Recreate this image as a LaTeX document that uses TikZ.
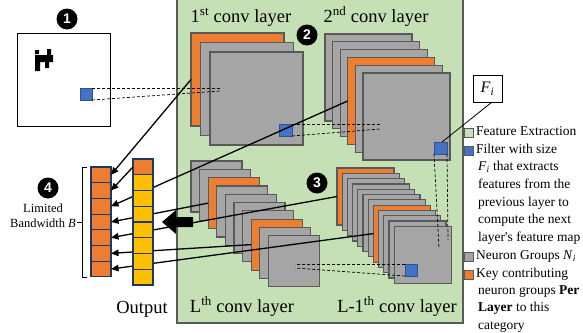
\documentclass[tikz,border=0pt]{standalone}
\usepackage{fontspec}
\setmainfont{Liberation Serif}
\newfontfamily\numfont{Liberation Sans}
\usetikzlibrary{arrows.meta}
\definecolor{panelgreen}{HTML}{C5E0B4}
\definecolor{keyorange}{HTML}{ED7D31}
\definecolor{groupgray}{HTML}{A5A5A5}
\definecolor{edgegray}{HTML}{595959}
\definecolor{filterblue}{HTML}{4472C4}
\definecolor{filteredge}{HTML}{2F528F}
\definecolor{outyellow}{HTML}{FFC000}
\definecolor{cellnavy}{HTML}{203864}
\newcommand{\biglabel}{\fontsize{18.5}{22}\selectfont}
\newcommand{\legendfont}{\fontsize{13.5}{16}\selectfont}
\begin{document}
\begin{tikzpicture}[x=1pt,y=-1pt,
  fmap/.style={draw=edgegray, line width=1.2pt, fill=#1, inner sep=0pt, outer sep=0pt, anchor=north west},
  filt/.style={draw=filteredge, line width=0.8pt, fill=filterblue, inner sep=0pt, outer sep=0pt,
    minimum width=12pt, minimum height=12pt, anchor=north west},
  cell/.style={draw=cellnavy, line width=1.1pt, fill=#1, inner sep=0pt, outer sep=0pt,
    minimum width=20pt, minimum height=15.7pt},
  feed/.style={line width=1.3pt, -{Triangle[length=7.5pt,width=6.5pt]}},
  hint/.style={dashed, line width=0.7pt, dash pattern=on 3pt off 2pt},
  badge/.style={circle, fill=black, text=white, inner sep=0pt, minimum size=21pt,
    font=\numfont\bfseries\fontsize{14}{14}\selectfont},
  layername/.style={anchor=base, font=\biglabel, inner sep=0pt},
  legtext/.style={anchor=mid west, font=\legendfont, inner sep=0pt},
  legbox/.style={draw=edgegray, line width=0.8pt, fill=#1, inner sep=0pt,
    minimum width=9pt, minimum height=9pt},
]
\useasboundingbox (0,0) rectangle (583,332);

% feature extraction panel
\fill[panelgreen] (177,-3) rectangle (463,323);
\draw[edgegray, line width=1.2pt] (177,-3) -- (177,323) -- (463,323) -- (463,-3);

% input image with its pixel glyph
\node[draw=black, line width=1.2pt, fill=white, minimum size=93pt, inner sep=0pt, anchor=north west] (img) at (17,33) {};
\fill[black] (35,50) rectangle (39,54)
             (47,49) rectangle (51,56)
             (35,55) rectangle (53,62)
             (35,62) rectangle (40,71)
             (45,62) rectangle (49,68);
\node[filt] (f0) at (80,88) {};

% 1st conv layer
\foreach \i/\c in {0/keyorange,1/groupgray,2/groupgray}
  \node[fmap=\c, minimum size=93pt] (la\i) at ({191+9.5*\i},{33+9.5*\i}) {};
\node[filt, minimum width=13pt] (f1) at (279,124) {};

% 2nd conv layer
\foreach \i/\c in {0/groupgray,1/groupgray,2/groupgray,3/keyorange,4/groupgray,5/groupgray}
  \node[fmap=\c, minimum size=87pt] (lb\i) at ({325+7.6*\i},{34+7.8*\i}) {};
\node[filt, minimum width=13pt] (f2) at (434,142) {};

% L-th conv layer
\foreach \i/\c in {0/groupgray,1/groupgray,2/keyorange,3/groupgray,4/groupgray,5/groupgray,6/groupgray,7/keyorange,8/groupgray,9/groupgray}
  \node[fmap=\c, minimum size=51pt] (ld\i) at ({191+8.6*\i},{161+8.3*\i}) {};

% (L-1)-th conv layer
\foreach \i/\c in {0/keyorange,1/groupgray,2/groupgray,3/groupgray,4/groupgray,5/groupgray,6/groupgray,7/keyorange,8/groupgray,9/groupgray,10/groupgray,11/groupgray}
  \node[fmap=\c, minimum size=57pt] (lc\i) at ({337+5.2*\i},{168+5.3*\i}) {};
\node[filt] (f3) at (405,264) {};

% receptive field guides
\coordinate (g0a) at (220,88);  \coordinate (g0b) at (220,91);
\coordinate (g1a) at (380,124); \coordinate (g1b) at (380,129);
\coordinate (g2a) at (439,248); \coordinate (g2b) at (448,240);
\coordinate (g3a) at (295,264); \coordinate (g3b) at (295,268);
\draw[hint] (f0.north east) -- (g0a);
\draw[hint] (f0.south east) -- (g0b);
\draw[hint] (f1.north east) -- (g1a);
\draw[hint] (f1.south east) -- (g1b);
\draw[hint] (f2.south west) -- (g2a);
\draw[hint] (f2.south east) -- (g2b);
\draw[hint] (f3.north west) -- (g3a);
\draw[hint] (f3.south west) -- (g3b);

% layer names
\node[layername] at (241,22) {1\textsuperscript{st} conv layer};
\node[layername] at (376,22) {2\textsuperscript{nd} conv layer};
\node[layername] at (242,312) {L\textsuperscript{th} conv layer};
\node[layername] at (397,312) {L-1\textsuperscript{th} conv layer};
\node[layername] at (142,313) {Output};

% filter size callout
\node[draw=black, line width=0.9pt, fill=white, minimum width=29pt, minimum height=27pt, inner sep=0pt,
  font=\fontsize{16}{16}\selectfont] (fi) at (487.5,88.5) {\textit{F}\textsubscript{\textit{i}}};
\draw[line width=0.8pt] ([xshift=4pt]fi.south) -- ([xshift=-5pt]f2.north east);

% limited bandwidth column
\foreach \k in {1,...,7}
  \node[cell=keyorange] (b\k) at (101,{167+15.7*(\k-0.5)}) {};

% connections from key neuron groups to the bandwidth slots
\draw[feed] (la0.west) -- (b1.east);
\draw[feed] (lb3.west) -- (b3.east);
\draw[feed] (ld2.west) -- (b4.east);
\draw[feed] (lc0.west) -- (b5.east);
\draw[feed] (ld7.west) -- (b6.east);
\draw[feed] (lc7.west) -- (b7.east);

% output column
\node[cell=keyorange] (o0) at (143,{159+15.75*0.5}) {};
\foreach \k in {1,...,7}
  \node[cell=outyellow] (o\k) at (143,{159+15.75*(\k+0.5)}) {};
\draw[feed] (o0.west) -- (b2.east);

% bracket for the bandwidth
\coordinate (bt) at (87,167); \coordinate (bb) at (87,277);
\draw[line width=1pt] (bt) -- (82,167) -- (82,277) -- (bb);
\draw[line width=1pt] (77,222) -- (82,222);
\node[align=center, font=\fontsize{12.5}{15}\selectfont, inner sep=0pt] at (43,215.5) {Limited\\Bandwidth \textit{B}};

% big arrow towards the output
\fill[black] (162,222) -- (176,210) -- (176,217) -- (193,217) -- (193,227) -- (176,227) -- (176,234) -- cycle;

% step badges
\node[badge] (s1) at (67,19) {1};
\node[badge] (s2) at (307,35) {2};
\node[badge] (s3) at (317,183) {3};
\node[badge] (s4) at (48,188) {4};

% legend
\node[legbox=panelgreen] at (469,133) {};
\node[legbox=filterblue] at (469,151) {};
\node[legbox=groupgray] at (469,257) {};
\node[legbox=keyorange] at (469,275) {};
\node[legtext] at (476,133) {Feature Extraction};
\node[legtext] at (476,151) {Filter with size};
\node[legtext] at (478,168.5) {\textit{F}\textsubscript{\textit{i}} that extracts};
\node[legtext] at (478,186) {features from the};
\node[legtext] at (478,204) {previous layer to};
\node[legtext] at (478,221.5) {compute the next};
\node[legtext] at (478,239) {layer\textquotesingle s feature map};
\node[legtext] at (476,257) {Neuron Groups \textit{N}\textsubscript{\textit{i}}};
\node[legtext] at (476,275) {Key contributing};
\node[legtext] at (478,292) {neuron groups \textbf{Per}};
\node[legtext] at (478,309.5) {\textbf{Layer} to this};
\node[legtext] at (478,327) {category};
\end{tikzpicture}
\end{document}
